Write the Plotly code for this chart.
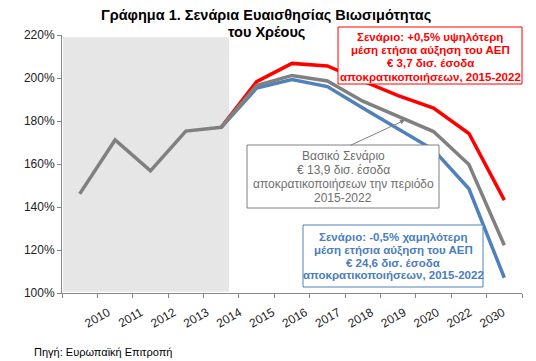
import plotly.graph_objects as go

years = ["2010", "2011", "2012", "2013", "2014", "2015", "2016", "2017",
         "2018", "2019", "2020", "2022", "2030"]
baseline = [146.1, 171.2, 156.8, 175.3, 177.1, 196.5, 201.2, 198.6,
            189.2, 182.2, 175.1, 159.8, 122.2]
high_growth = [None, None, None, None, 177.1, 198.3, 206.8, 205.6,
               198.6, 191.8, 186.0, 174.2, 143.2]
low_growth = [None, None, None, None, 177.1, 195.3, 199.3, 196.0,
              186.0, 176.3, 166.6, 148.5, 107.1]
y_ticks = [100, 120, 140, 160, 180, 200, 220]
y_tick_labels = ["100%", "120%", "140%", "160%", "180%", "200%", "220%"]

title_lines = ["Γράφημα 1. Σενάρια Ευαισθησίας Βιωσιμότητας", "του Χρέους"]
red_lines = ["Σενάριο: +0,5% υψηλότερη", "μέση ετήσια αύξηση του ΑΕΠ",
             "€ 3,7 δισ. έσοδα", "αποκρατικοποιήσεων, 2015-2022"]
grey_lines = ["Βασικό Σενάριο", "€ 13,9 δισ. έσοδα",
              "αποκρατικοποιήσεων την περιόδο", "2015-2022"]
blue_lines = ["Σενάριο: -0,5% χαμηλότερη", "μέση ετήσια αύξηση του ΑΕΠ",
              "€ 24,6 δισ. έσοδα", "αποκρατικοποιήσεων, 2015-2022"]
source_text = "Πηγή: Ευρωπαϊκή Επιτροπή"

# page body has an 8px margin in the rendered html
OFF = 8
W, H = 536 - OFF, 361 - OFF
L, R, T, B = 54, 14, 27, 68
PW, PH = W - L - R, H - T - B


def px(x):
    return (x - OFF - L) / PW


def py(y):
    return (H - B - (y - OFF)) / PH


RED = "#FF0000"
GREY = "#808080"
BLUE = "#4F81BD"
FONT = "Liberation Sans, Arial, sans-serif"

fig = go.Figure()
fig.add_trace(go.Scatter(x=years, y=high_growth, mode="lines",
                         line=dict(color=RED, width=3.5), showlegend=False))
fig.add_trace(go.Scatter(x=years, y=low_growth, mode="lines",
                         line=dict(color=BLUE, width=3.5), showlegend=False))
fig.add_trace(go.Scatter(x=years, y=baseline, mode="lines",
                         line=dict(color=GREY, width=3.5), showlegend=False))
# carrier for the tick-label axis (labels are spaced a little tighter)
fig.add_trace(go.Scatter(x=[None], y=[None], xaxis="x2", yaxis="y",
                         mode="lines", showlegend=False, hoverinfo="skip"))

fig.add_shape(type="rect", xref="x", yref="y", x0=-0.47, x1=4.22,
              y0=100.6, y1=219, fillcolor="#E6E6E6", line=dict(width=0),
              layer="below")

annotations = []


def box(x0, x1, y0, y1, color):
    fig.add_shape(type="rect", xref="paper", yref="paper",
                  x0=px(x0), x1=px(x1), y0=py(y1), y1=py(y0),
                  fillcolor="white", line=dict(color=color, width=1),
                  layer="above")


def lines(texts, xc, ys, size, color, bold):
    for t, yy in zip(texts, ys):
        annotations.append(dict(
            text=f"<b>{t}</b>" if bold else t,
            x=px(xc), y=py(yy), xref="paper", yref="paper",
            showarrow=False, xanchor="center", yanchor="middle",
            font=dict(size=size, color=color, family=FONT)))


lines(title_lines, 266, [15, 32], 14.5, "#000000", True)

box(338, 522, 27, 84, RED)
lines(red_lines, 430, [36.7, 50, 63.3, 76.7], 11.5, RED, True)

box(247, 439, 145, 208, GREY)
lines(grey_lines, 343, [156, 170, 184.5, 198], 12, "#6E6E6E", False)

box(303, 483, 225, 287, BLUE)
lines(blue_lines, 393, [236.7, 250, 262.7, 275.3], 11.5, "#4A7EBB", True)

annotations.append(dict(
    text="", x=px(405), y=py(120), xref="paper", yref="paper",
    showarrow=True, ax=-56, ay=26, axref="pixel", ayref="pixel",
    arrowcolor=GREY, arrowwidth=1, arrowhead=2, arrowsize=1))

annotations.append(dict(
    text=source_text, x=px(32), y=py(352),
    xref="paper", yref="paper", showarrow=False,
    xanchor="left", yanchor="middle",
    font=dict(size=11, color="#000000", family=FONT)))

label_step = 32.9
first_label_end = 108
lab_x0 = first_label_end - label_step / 2
lab_x1 = first_label_end + label_step * 12.5

fig.update_layout(
    width=W, height=H,
    margin=dict(l=L, r=R, t=T, b=B),
    paper_bgcolor="white", plot_bgcolor="rgba(0,0,0,0)",
    font=dict(family=FONT, size=12, color="#222222"),
    annotations=annotations,
    xaxis=dict(type="category", range=[-0.5, 12.5], showgrid=False,
               showline=True, linecolor="#888888", linewidth=1,
               ticks="outside", ticklen=4, tickcolor="#888888",
               tickson="boundaries", showticklabels=False),
    xaxis2=dict(type="linear", range=[-0.5, 12.5], anchor="y",
                domain=[px(lab_x0), px(lab_x1)],
                tickvals=list(range(len(years))), ticktext=years,
                showgrid=False, zeroline=False, showline=False,
                ticks="outside", ticklen=4, tickcolor="rgba(0,0,0,0)",
                tickangle=-30, ticklabelstandoff=3,
                tickfont=dict(size=12, color="#222222", family=FONT)),
    yaxis=dict(range=[100, 220], tickvals=y_ticks, ticktext=y_tick_labels,
               showgrid=False, zeroline=False, showline=True,
               linecolor="#888888", linewidth=1, ticks="outside", ticklen=4,
               tickcolor="#888888",
               tickfont=dict(size=12, color="#222222", family=FONT)),
)

fig.write_html("out.html")
